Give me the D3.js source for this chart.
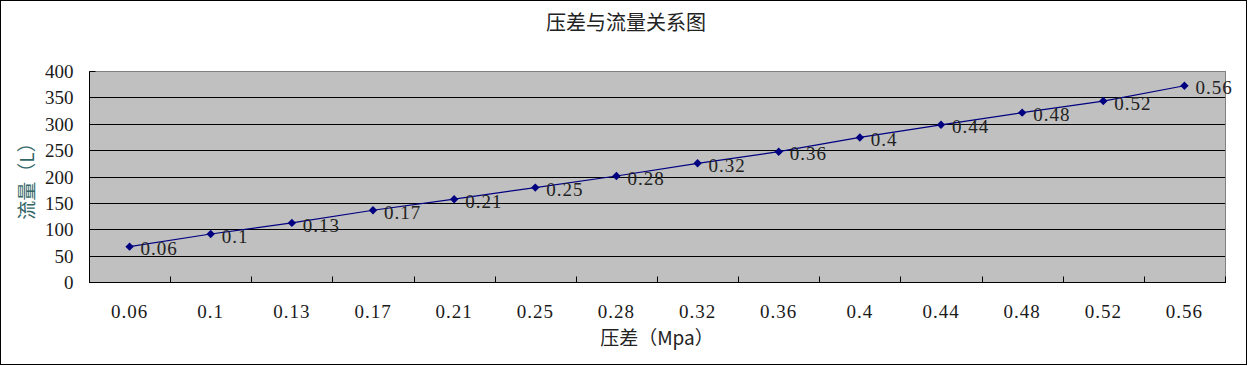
<!DOCTYPE html>
<html>
<head>
<meta charset="utf-8">
<script src="https://cdn.jsdelivr.net/npm/d3@7"></script>
<style>
  html, body { margin: 0; padding: 0; background: #fff; }
  svg { display: block; }
</style>
</head>
<body>
<svg id="chart" width="1252" height="366"></svg>
<script>
const chartTitle = "压差与流量关系图";
const xAxisTitle = "压差（Mpa）";
const yAxisTitle = "流量（L）";
const categories = ["0.06","0.1","0.13","0.17","0.21","0.25","0.28","0.32","0.36","0.4","0.44","0.48","0.52","0.56"];
const flowValues = [67, 91, 112, 136, 157, 179, 201, 225, 247, 274, 298, 321, 343, 372];
const yTickValues = [0, 50, 100, 150, 200, 250, 300, 350, 400];

const W = 1252, H = 366;
const plot = { left: 89, top: 71, right: 1225, bottom: 282 };
const numFont = "'Liberation Serif', 'Times New Roman', serif";
const cjkFont = "'Noto Sans CJK SC', 'Noto Sans', sans-serif";

const svg = d3.select("#chart");

// outer frame
svg.append("rect")
  .attr("x", 0.5).attr("y", 0.5)
  .attr("width", 1246).attr("height", 364)
  .attr("fill", "#fff").attr("stroke", "#000").attr("stroke-width", 1);

const x = d3.scaleBand().domain(categories).range([plot.left, plot.right]).padding(0);
const y = d3.scaleLinear().domain([0, 400]).range([plot.bottom, plot.top]);
const px = v => Math.round(v) + 0.5;

// plot background
svg.append("rect")
  .attr("x", plot.left + 0.5).attr("y", px(y(400)))
  .attr("width", plot.right - plot.left).attr("height", y(0) - y(400))
  .attr("fill", "#C0C0C0").attr("stroke", "#808080").attr("stroke-width", 1);

// gridlines
svg.append("g").selectAll("line")
  .data(yTickValues.filter(v => v > 0 && v < 400))
  .join("line")
  .attr("x1", plot.left).attr("x2", plot.right)
  .attr("y1", d => px(y(d))).attr("y2", d => px(y(d)))
  .attr("stroke", "#000").attr("stroke-width", 1);

// y axis
const yAxis = svg.append("g")
  .attr("transform", `translate(${plot.left + 0.5},0)`)
  .call(d3.axisLeft(y).tickValues(yTickValues).tickSize(-6).tickPadding(16).tickFormat(d3.format("d")));
yAxis.select(".domain").attr("stroke", "#000").attr("d", `M0,${px(y(400))}V${px(y(0))}`);
yAxis.selectAll(".tick line").attr("stroke", "#000").attr("transform", function() { return "translate(0,0)"; });
yAxis.selectAll(".tick").attr("transform", d => `translate(0,${px(y(d))})`);
yAxis.selectAll(".tick text")
  .attr("font-family", numFont).attr("font-size", 19).attr("fill", "#1a1a1a")
  .attr("dy", "0.35em").attr("x", -16);

// x axis
const xAxis = svg.append("g")
  .attr("transform", `translate(0,${px(y(0))})`)
  .call(d3.axisBottom(x).tickSize(0).tickPadding(22));
xAxis.select(".domain").attr("stroke", "#000").attr("d", `M${plot.left},0H${plot.right + 1}`);
xAxis.selectAll(".tick text")
  .attr("font-family", numFont).attr("font-size", 19).attr("fill", "#1a1a1a")
  .attr("letter-spacing", "1px");

// x tick marks at category boundaries (pointing inward)
const boundaries = categories.map(c => x(c) + x.bandwidth()).concat([]);
svg.append("g").selectAll("line")
  .data(categories)
  .join("line")
  .attr("x1", d => px(x(d) + x.bandwidth())).attr("x2", d => px(x(d) + x.bandwidth()))
  .attr("y1", px(y(0))).attr("y2", px(y(0)) - 6)
  .attr("stroke", "#000").attr("stroke-width", 1);

// series line
const cx = c => x(c) + x.bandwidth() / 2;
const line = d3.line().x(d => cx(d.c)).y(d => y(d.v));
const pts = categories.map((c, i) => ({ c, v: flowValues[i] }));
svg.append("path")
  .datum(pts)
  .attr("d", line)
  .attr("fill", "none").attr("stroke", "#000080").attr("stroke-width", 1.2);

// markers
svg.append("g").selectAll("path")
  .data(pts)
  .join("path")
  .attr("d", d => {
    const X = cx(d.c), Y = y(d.v), r = 4.2;
    return `M${X},${Y - r}L${X + r},${Y}L${X},${Y + r}L${X - r},${Y}Z`;
  })
  .attr("fill", "#000080").attr("stroke", "none");

// data labels
svg.append("g").selectAll("text")
  .data(pts)
  .join("text")
  .attr("x", d => cx(d.c) + 11)
  .attr("y", d => y(d.v) + 2)
  .attr("dy", "0.35em")
  .attr("font-family", numFont).attr("font-size", 19).attr("fill", "#222")
  .attr("letter-spacing", "1px")
  .text(d => d.c);

// title
svg.append("text")
  .attr("x", W / 2).attr("y", 23).attr("dy", "0.35em")
  .attr("text-anchor", "middle")
  .attr("font-family", cjkFont).attr("font-size", 20).attr("fill", "#222")
  .text(chartTitle);

// x axis title
svg.append("text")
  .attr("x", (plot.left + plot.right) / 2).attr("y", 338).attr("dy", "0.35em")
  .attr("text-anchor", "middle")
  .attr("font-family", cjkFont).attr("font-size", 19).attr("fill", "#222")
  .text(xAxisTitle);

// y axis title
svg.append("text")
  .attr("transform", `translate(27,${(plot.top + plot.bottom) / 2}) rotate(-90)`)
  .attr("dy", "0.35em")
  .attr("text-anchor", "middle")
  .attr("font-family", cjkFont).attr("font-size", 19).attr("fill", "#336666")
  .text(yAxisTitle);
</script>
</body>
</html>
